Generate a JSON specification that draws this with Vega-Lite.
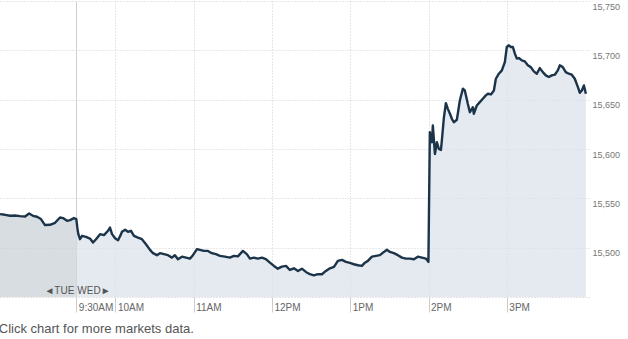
{
  "$schema": "https://vega.github.io/schema/vega-lite/v6.json",
  "width": 589,
  "height": 296,
  "autosize": {"type": "none"},
  "padding": {"left": 0, "top": 1, "right": 39, "bottom": 42},
  "background": "white",
  "config": {"view": {"stroke": null}, "font": "Liberation Sans"},
  "title": {"text": "Click chart for more markets data.", "orient": "bottom", "anchor": "start", "fontSize": 13, "fontWeight": "normal", "color": "#555555", "offset": 10, "font": "Liberation Sans"},
  "data": {"values": [
    {"day":"Tue","min":-58.5,"value":15534.0},{"day":"Tue","min":-54.6,"value":15533.3},{"day":"Tue","min":-50.8,"value":15532.3},{"day":"Tue","min":-47.0,"value":15532.6},{"day":"Tue","min":-43.1,"value":15532.0},{"day":"Tue","min":-39.3,"value":15531.6},{"day":"Tue","min":-36.2,"value":15534.6},{"day":"Tue","min":-33.2,"value":15532.3},{"day":"Tue","min":-30.1,"value":15531.3},{"day":"Tue","min":-27.1,"value":15529.0},{"day":"Tue","min":-24.0,"value":15522.9},{"day":"Tue","min":-20.2,"value":15523.2},{"day":"Tue","min":-16.3,"value":15525.2},{"day":"Tue","min":-12.5,"value":15530.6},{"day":"Tue","min":-10.2,"value":15530.0},{"day":"Tue","min":-7.1,"value":15527.2},{"day":"Tue","min":-4.8,"value":15527.9},{"day":"Tue","min":-1.8,"value":15530.0},{"day":"Tue","min":0,"value":15529.0},
    {"day":"Wed","min":0,"value":15529.0},{"day":"Wed","min":0.8,"value":15520.0},{"day":"Wed","min":1.5,"value":15514.0},{"day":"Wed","min":2.8,"value":15508.6},{"day":"Wed","min":4.4,"value":15512.0},{"day":"Wed","min":7.4,"value":15511.0},{"day":"Wed","min":10.5,"value":15509.2},{"day":"Wed","min":12.8,"value":15505.2},{"day":"Wed","min":15.1,"value":15508.6},{"day":"Wed","min":18.2,"value":15513.7},{"day":"Wed","min":21.2,"value":15512.7},{"day":"Wed","min":24.3,"value":15517.1},{"day":"Wed","min":25.8,"value":15520.4},{"day":"Wed","min":27.4,"value":15513.7},{"day":"Wed","min":29.7,"value":15509.6},{"day":"Wed","min":32.0,"value":15507.6},{"day":"Wed","min":34.3,"value":15513.7},{"day":"Wed","min":35.0,"value":15516.1},{"day":"Wed","min":37.4,"value":15518.1},{"day":"Wed","min":39.6,"value":15516.1},{"day":"Wed","min":41.9,"value":15517.1},{"day":"Wed","min":44.2,"value":15512.0},{"day":"Wed","min":47.3,"value":15510.2},{"day":"Wed","min":50.3,"value":15508.6},{"day":"Wed","min":53.4,"value":15503.5},{"day":"Wed","min":56.5,"value":15497.8},{"day":"Wed","min":58.8,"value":15494.4},{"day":"Wed","min":61.8,"value":15492.4},{"day":"Wed","min":64.1,"value":15494.4},{"day":"Wed","min":67.2,"value":15493.4},{"day":"Wed","min":70.3,"value":15492.4},{"day":"Wed","min":73.3,"value":15489.9},{"day":"Wed","min":75.6,"value":15492.4},{"day":"Wed","min":77.9,"value":15488.3},{"day":"Wed","min":81.0,"value":15490.9},{"day":"Wed","min":84.1,"value":15489.9},{"day":"Wed","min":87.1,"value":15488.9},{"day":"Wed","min":89.4,"value":15492.4},{"day":"Wed","min":92.5,"value":15498.5},{"day":"Wed","min":94.8,"value":15497.8},{"day":"Wed","min":97.8,"value":15496.7},{"day":"Wed","min":100.9,"value":15496.7},{"day":"Wed","min":103.9,"value":15494.4},{"day":"Wed","min":107.0,"value":15493.4},{"day":"Wed","min":110.1,"value":15491.7},{"day":"Wed","min":113.9,"value":15490.9},{"day":"Wed","min":117.7,"value":15489.9},{"day":"Wed","min":120.8,"value":15491.7},{"day":"Wed","min":123.9,"value":15491.2},{"day":"Wed","min":127.7,"value":15496.7},{"day":"Wed","min":130.7,"value":15493.4},{"day":"Wed","min":133.1,"value":15488.9},{"day":"Wed","min":136.1,"value":15489.9},{"day":"Wed","min":139.2,"value":15488.9},{"day":"Wed","min":142.3,"value":15489.9},{"day":"Wed","min":145.3,"value":15488.3},{"day":"Wed","min":148.4,"value":15484.8},{"day":"Wed","min":151.5,"value":15481.5},{"day":"Wed","min":154.5,"value":15478.7},{"day":"Wed","min":157.6,"value":15480.8},{"day":"Wed","min":160.7,"value":15481.5},{"day":"Wed","min":163.7,"value":15477.4},{"day":"Wed","min":166.8,"value":15479.1},{"day":"Wed","min":169.9,"value":15476.4},{"day":"Wed","min":172.9,"value":15478.7},{"day":"Wed","min":176.0,"value":15475.4},{"day":"Wed","min":179.1,"value":15473.1},{"day":"Wed","min":182.1,"value":15472.0},{"day":"Wed","min":185.2,"value":15473.1},{"day":"Wed","min":188.3,"value":15473.1},{"day":"Wed","min":191.3,"value":15476.4},{"day":"Wed","min":194.4,"value":15479.1},{"day":"Wed","min":197.5,"value":15480.5},{"day":"Wed","min":200.5,"value":15486.6},{"day":"Wed","min":203.6,"value":15487.6},{"day":"Wed","min":206.7,"value":15485.6},{"day":"Wed","min":209.7,"value":15484.5},{"day":"Wed","min":212.8,"value":15483.2},{"day":"Wed","min":215.9,"value":15482.2},{"day":"Wed","min":218.9,"value":15481.5},{"day":"Wed","min":221.2,"value":15484.8},{"day":"Wed","min":223.5,"value":15486.6},{"day":"Wed","min":226.6,"value":15490.9},{"day":"Wed","min":229.7,"value":15491.7},{"day":"Wed","min":232.7,"value":15492.4},{"day":"Wed","min":235.8,"value":15495.7},{"day":"Wed","min":238.1,"value":15497.8},{"day":"Wed","min":240.4,"value":15495.7},{"day":"Wed","min":243.4,"value":15494.4},{"day":"Wed","min":246.5,"value":15492.4},{"day":"Wed","min":249.6,"value":15489.9},{"day":"Wed","min":252.6,"value":15488.9},{"day":"Wed","min":255.7,"value":15488.9},{"day":"Wed","min":258.8,"value":15488.3},{"day":"Wed","min":261.8,"value":15490.9},{"day":"Wed","min":264.9,"value":15489.9},{"day":"Wed","min":268.0,"value":15488.9},{"day":"Wed","min":269.9,"value":15485.6},{"day":"Wed","min":271.0,"value":15617.0},{"day":"Wed","min":272.6,"value":15606.8},{"day":"Wed","min":273.3,"value":15623.8},{"day":"Wed","min":274.9,"value":15595.0},{"day":"Wed","min":276.4,"value":15606.8},{"day":"Wed","min":277.9,"value":15600.1},{"day":"Wed","min":279.5,"value":15599.1},{"day":"Wed","min":280.2,"value":15608.5},{"day":"Wed","min":281.8,"value":15632.2},{"day":"Wed","min":283.3,"value":15646.4},{"day":"Wed","min":284.8,"value":15640.7},{"day":"Wed","min":286.4,"value":15635.7},{"day":"Wed","min":287.9,"value":15630.6},{"day":"Wed","min":289.4,"value":15627.1},{"day":"Wed","min":291.7,"value":15629.6},{"day":"Wed","min":294.0,"value":15649.2},{"day":"Wed","min":296.3,"value":15661.1},{"day":"Wed","min":297.8,"value":15659.3},{"day":"Wed","min":300.1,"value":15645.8},{"day":"Wed","min":301.7,"value":15637.3},{"day":"Wed","min":304.0,"value":15642.4},{"day":"Wed","min":304.7,"value":15635.7},{"day":"Wed","min":307.0,"value":15644.1},{"day":"Wed","min":309.3,"value":15647.5},{"day":"Wed","min":311.6,"value":15650.9},{"day":"Wed","min":313.9,"value":15654.3},{"day":"Wed","min":315.5,"value":15656.0},{"day":"Wed","min":317.8,"value":15655.3},{"day":"Wed","min":320.1,"value":15659.3},{"day":"Wed","min":321.6,"value":15671.2},{"day":"Wed","min":323.9,"value":15676.3},{"day":"Wed","min":326.2,"value":15679.7},{"day":"Wed","min":328.5,"value":15688.1},{"day":"Wed","min":330.0,"value":15703.4},{"day":"Wed","min":331.6,"value":15705.1},{"day":"Wed","min":333.1,"value":15703.4},{"day":"Wed","min":334.6,"value":15703.4},{"day":"Wed","min":336.2,"value":15696.6},{"day":"Wed","min":337.7,"value":15691.6},{"day":"Wed","min":339.2,"value":15692.2},{"day":"Wed","min":341.5,"value":15689.8},{"day":"Wed","min":343.8,"value":15688.8},{"day":"Wed","min":346.1,"value":15684.8},{"day":"Wed","min":348.4,"value":15683.0},{"day":"Wed","min":350.7,"value":15678.7},{"day":"Wed","min":353.0,"value":15676.3},{"day":"Wed","min":355.3,"value":15682.0},{"day":"Wed","min":357.6,"value":15677.9},{"day":"Wed","min":359.9,"value":15674.6},{"day":"Wed","min":362.2,"value":15672.9},{"day":"Wed","min":364.5,"value":15674.6},{"day":"Wed","min":366.8,"value":15675.3},{"day":"Wed","min":369.1,"value":15679.7},{"day":"Wed","min":370.6,"value":15684.8},{"day":"Wed","min":372.9,"value":15683.0},{"day":"Wed","min":375.2,"value":15677.9},{"day":"Wed","min":377.5,"value":15676.3},{"day":"Wed","min":379.8,"value":15675.3},{"day":"Wed","min":382.1,"value":15671.2},{"day":"Wed","min":384.5,"value":15662.7},{"day":"Wed","min":386.0,"value":15657.0},{"day":"Wed","min":387.5,"value":15659.3},{"day":"Wed","min":389.1,"value":15664.4},{"day":"Wed","min":390.6,"value":15656.0}
  ]},
  "layer": [
    {
      "mark": {"type": "area", "opacity": 0.7},
      "encoding": {
        "x": {"field": "min", "type": "quantitative",
          "scale": {"domain": [-58.5, 393], "nice": false, "zero": false},
          "axis": {"values": [0, 30, 90, 150, 210, 270, 330],
            "labelExpr": "datum.value == 0 ? '9:30AM' : datum.value == 30 ? '10AM' : datum.value == 90 ? '11AM' : datum.value == 150 ? '12PM' : datum.value == 210 ? '1PM' : datum.value == 270 ? '2PM' : '3PM'",
            "grid": true, "gridColor": "#cfcfcf",
            "gridDash": {"condition": {"test": "datum.value === 0", "value": []}, "value": [1, 2]},
            "tickSize": 15, "tickColor": "#cccccc", "domain": true, "domainColor": "#cccccc", "domainDash": [1, 2],
            "labelAlign": "left", "labelBaseline": "top", "labelPadding": -10, "labelOffset": 2,
            "labelFontSize": 10, "labelColor": "#666666", "labelFont": "Liberation Sans",
            "labelFlush": false, "labelOverlap": false, "title": null}},
        "y": {"field": "value", "type": "quantitative", "stack": null,
          "scale": {"domain": [15450, 15750], "nice": false, "zero": false},
          "axis": {"orient": "right", "values": [15500, 15550, 15600, 15650, 15700, 15750], "format": ",d",
            "grid": true, "gridColor": "#d3d3d3", "gridDash": [1, 2], "ticks": false, "domain": false,
            "labelBaseline": "top", "labelPadding": 3, "labelOffset": 1, "labelFontSize": 9, "labelColor": "#777777",
            "labelFont": "Liberation Sans", "labelFlush": false, "labelOverlap": false, "title": null}},
        "y2": {"datum": 15450},
        "color": {"field": "day", "type": "nominal", "scale": {"domain": ["Tue", "Wed"], "range": ["#c8ced5", "#dae1eb"]}, "legend": null}
      }
    },
    {
      "mark": {"type": "line", "color": "#1b3449", "strokeWidth": 2.4, "strokeJoin": "round"},
      "encoding": {
        "x": {"field": "min", "type": "quantitative"},
        "y": {"field": "value", "type": "quantitative"}
      }
    },
    {
      "data": {"values": [{"label": "◄TUE"}]},
      "mark": {"type": "text", "align": "right", "baseline": "alphabetic", "dx": -2, "dy": -3, "fontSize": 10, "color": "#555555", "font": "Liberation Sans"},
      "encoding": {"x": {"datum": 0}, "y": {"datum": 15450}, "text": {"field": "label"}}
    },
    {
      "data": {"values": [{"label": "WED►"}]},
      "mark": {"type": "text", "align": "left", "baseline": "alphabetic", "dx": 1, "dy": -3, "fontSize": 10, "color": "#555555", "font": "Liberation Sans"},
      "encoding": {"x": {"datum": 0}, "y": {"datum": 15450}, "text": {"field": "label"}}
    }
  ]
}
